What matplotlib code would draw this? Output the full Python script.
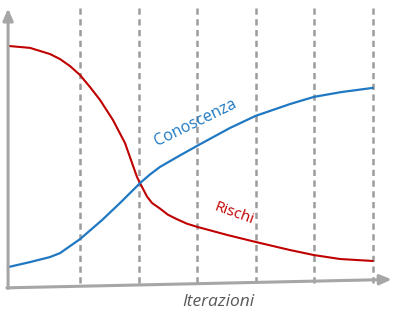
import matplotlib.pyplot as plt

# iterazioni (le linee tratteggiate cadono sui valori interi 1..6)
x_rischi = [-0.231, 0.145, 0.487, 0.658, 0.829, 1.0, 1.171, 1.342, 1.564, 1.769,
            1.889, 1.974, 2.026, 2.145, 2.231, 2.368, 2.504, 2.658, 2.829, 3.0,
            3.513, 4.0, 4.59, 5.0, 5.444, 6.0]
rischi = [86.1, 85.4, 83.2, 81.4, 78.9, 75.7, 71.4, 66.8, 59.6, 51.4,
          44.3, 39.3, 37.1, 32.3, 30.0, 28.0, 25.8, 24.2, 22.6, 21.5,
          18.6, 16.1, 13.2, 11.4, 10.0, 9.3]

x_conoscenza = [-0.231, 0.145, 0.487, 0.658, 1.0, 1.376, 1.684, 2.026, 2.197,
                2.368, 2.709, 3.0, 3.564, 4.0, 4.598, 5.0, 5.462, 6.0]
conoscenza = [7.1, 8.9, 10.7, 12.1, 17.1, 23.9, 30.0, 37.1, 40.2,
              42.9, 47.0, 50.4, 56.8, 61.1, 65.4, 67.9, 69.6, 71.1]

iterazioni = [1, 2, 3, 4, 5, 6]

fig = plt.figure(figsize=(4, 3.25), dpi=100)
ax = fig.add_axes([0, 0, 1, 1])
ax.set_xlim(-0.368, 6.47)
ax.set_ylim(-13.57, 102.5)
ax.axis("off")

grey = "#a6a6a6"
for it in iterazioni:
    ax.plot([it, it], [1.5, 100.5], color="#9c9c9c", lw=1.8, ls=(0, (2.5, 1.8)))

# assi con freccia
ax.annotate("", xy=(6.33, 2.7), xytext=(-0.25, -0.3),
            arrowprops=dict(arrowstyle="-|>,head_length=0.7,head_width=0.3",
                            color=grey, lw=2.2, shrinkA=0, shrinkB=0))
ax.annotate("", xy=(-0.23, 99.5), xytext=(-0.23, -0.5),
            arrowprops=dict(arrowstyle="-|>,head_length=0.7,head_width=0.3",
                            color=grey, lw=2.2, shrinkA=0, shrinkB=0))

ax.plot(x_rischi, rischi, color="#c00000", lw=1.5, solid_joinstyle="round")
ax.plot(x_conoscenza, conoscenza, color="#1f78c1", lw=1.6, solid_joinstyle="round")

ax.text(2.98, 58.5, "Conoscenza", color="#1f78c1", fontsize=11.5, family="Open Sans",
        rotation=26, ha="center", va="center", rotation_mode="anchor")
ax.text(3.64, 26.0, "Rischi", color="#c00000", fontsize=11, family="Open Sans",
        rotation=-20, ha="center", va="center", rotation_mode="anchor")
ax.text(3.36, -5.3, "Iterazioni", color="#595959", fontsize=12.5, family="Open Sans",
        style="italic", ha="center", va="center")

fig.savefig("out.png", dpi=100)
